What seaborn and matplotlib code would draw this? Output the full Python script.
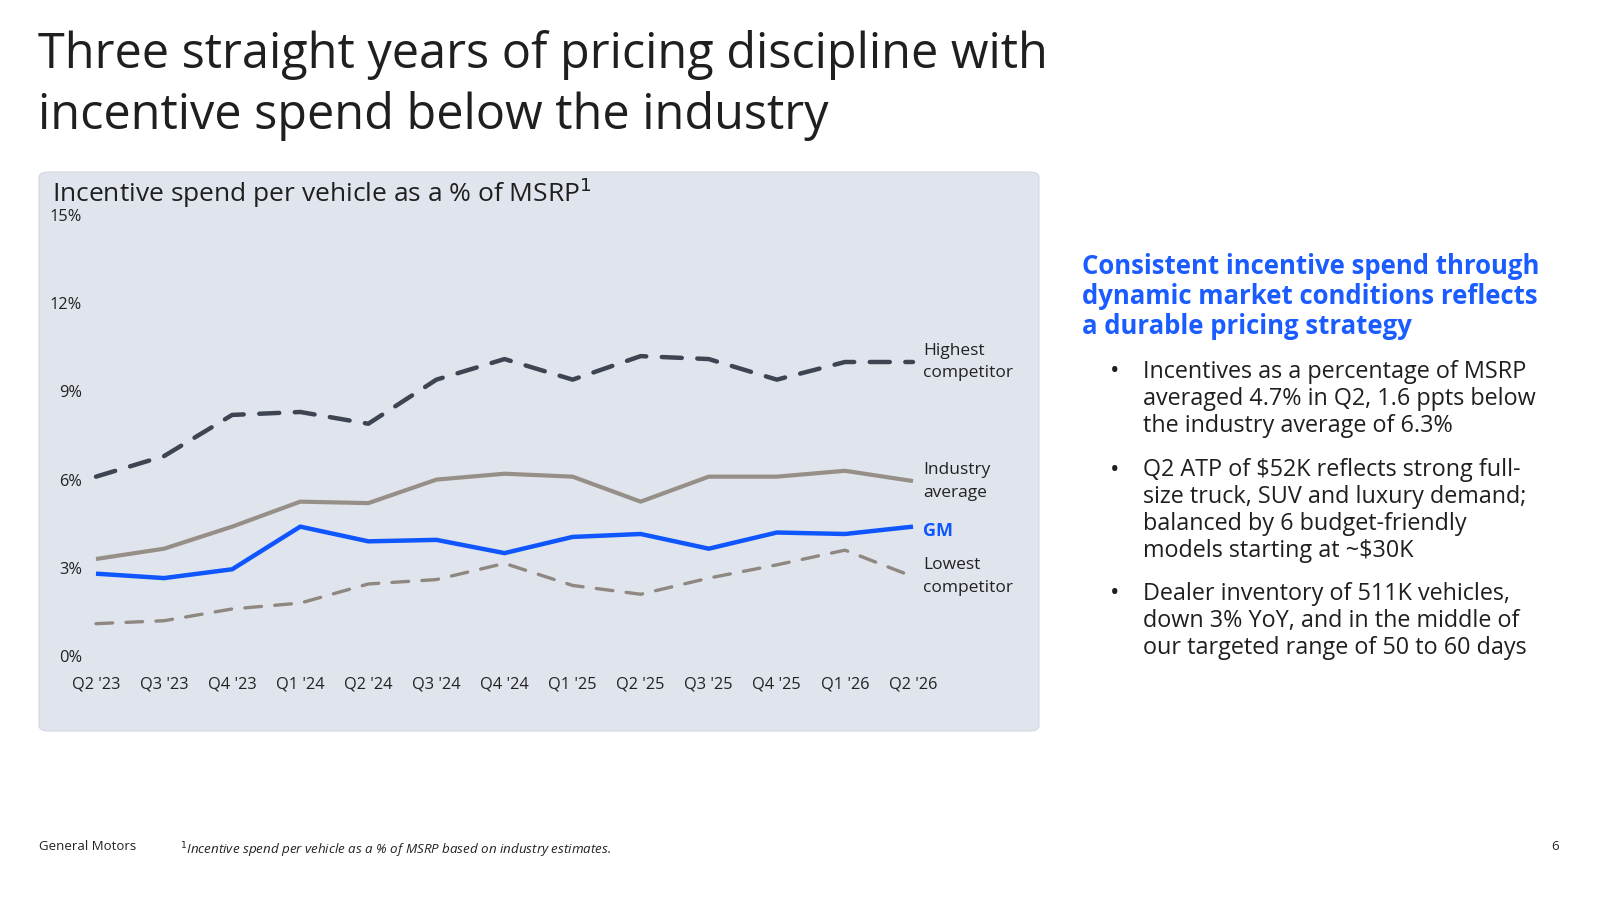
import matplotlib
matplotlib.use("Agg")
import matplotlib.pyplot as plt
import seaborn as sns
import pandas as pd
from matplotlib.patches import FancyBboxPatch

quarters = ["Q2 '23", "Q3 '23", "Q4 '23", "Q1 '24", "Q2 '24", "Q3 '24", "Q4 '24",
            "Q1 '25", "Q2 '25", "Q3 '25", "Q4 '25", "Q1 '26", "Q2 '26"]
highest = [6.1, 6.8, 8.2, 8.3, 7.9, 9.4, 10.1, 9.4, 10.2, 10.1, 9.4, 10.0, 10.0]
industry = [3.3, 3.65, 4.4, 5.25, 5.2, 6.0, 6.2, 6.1, 5.25, 6.1, 6.1, 6.3, 5.95]
gm = [2.8, 2.65, 2.95, 4.4, 3.9, 3.95, 3.5, 4.05, 4.15, 3.65, 4.2, 4.15, 4.4]
lowest = [1.1, 1.2, 1.6, 1.8, 2.45, 2.6, 3.15, 2.4, 2.1, 2.65, 3.1, 3.6, 2.7]
yticks = [0, 3, 6, 9, 12, 15]

sns.set_theme(style="white")
plt.rcParams['font.family'] = ['Open Sans', 'DejaVu Sans']

W, H = 1600, 900
fig = plt.figure(figsize=(16, 9), dpi=100)
fig.patch.set_facecolor("white")

def P(x, y):
    return (x / W, 1 - y / H)

# panel background
panel = FancyBboxPatch(P(39, 731), (1039 - 39) / W, (731 - 172) / H,
                       boxstyle="round,pad=0,rounding_size=0.006",
                       transform=fig.transFigure, facecolor="#E0E4EC",
                       edgecolor="#D3D8E0", linewidth=0.8, zorder=-5)
fig.patches.append(panel)

left, right, top, bottom = 96, 913, 215, 656
ax = fig.add_axes([left / W, 1 - bottom / H, (right - left) / W, (bottom - top) / H])
ax.set_facecolor("none")
ax.set_zorder(2)

x = list(range(len(quarters)))
df = pd.DataFrame({"x": x, "highest": highest, "industry": industry, "gm": gm, "lowest": lowest})

sns.lineplot(data=df, x="x", y="lowest", ax=ax, color="#8E8881", linewidth=2.4,
             clip_on=False, zorder=2)
ax.lines[-1].set_dashes([5, 4])
sns.lineplot(data=df, x="x", y="industry", ax=ax, color="#968F88", linewidth=3.0,
             clip_on=False, zorder=3)
sns.lineplot(data=df, x="x", y="highest", ax=ax, color="#3E4452", linewidth=3.2,
             clip_on=False, zorder=3)
ax.lines[-1].set_dashes([4.5, 3.5])
sns.lineplot(data=df, x="x", y="gm", ax=ax, color="#0F56FF", linewidth=3.2,
             clip_on=False, zorder=4)
for ln in ax.lines:
    ln.set_solid_capstyle("butt")
    ln.set_dash_capstyle("round")

ax.set_xlim(0, 12)
ax.set_ylim(0, 15)
ax.set_xticks(x)
ax.set_xticklabels(quarters)
ax.set_yticks(yticks)
ax.set_yticklabels([f"{v}%" for v in yticks])
ax.tick_params(axis="both", length=0, labelsize=11.8, colors="#222222")
ax.tick_params(axis="y", pad=10)
ax.tick_params(axis="x", pad=14.5)
ax.set_xlabel("")
ax.set_ylabel("")
for s in ax.spines.values():
    s.set_visible(False)
ax.grid(False)

# line labels
lab_kw = dict(fontsize=12.5, color="#222222", va="center", ha="left")
fig.text(*P(923, 351), "Highest", **lab_kw)
fig.text(*P(923, 373), "competitor", **lab_kw)
fig.text(*P(923, 470), "Industry", **lab_kw)
fig.text(*P(923, 493), "average", **lab_kw)
fig.text(*P(923, 531), "GM", fontsize=13, color="#0F56FF", fontweight="bold", va="center", ha="left")
fig.text(*P(923, 565), "Lowest", **lab_kw)
fig.text(*P(923, 588), "competitor", **lab_kw)

# chart subtitle
fig.text(*P(52, 193), "Incentive spend per vehicle as a % of MSRP$^{1}$", fontsize=19,
         color="#1F1F1F", va="center", ha="left")

# title
fig.text(*P(38, 55), "Three straight years of pricing discipline with", fontsize=35,
         color="#1F1F1F", va="center", ha="left")
fig.text(*P(38, 116), "incentive spend below the industry", fontsize=35,
         color="#1F1F1F", va="center", ha="left")

# right heading
for i, t in enumerate(["Consistent incentive spend through",
                       "dynamic market conditions reflects",
                       "a durable pricing strategy"]):
    fig.text(*P(1082, 266 + 30 * i), t, fontsize=18.5, fontweight="bold",
             color="#1A5CFF", va="center", ha="left")

bullets = [
    ["Incentives as a percentage of MSRP", "averaged 4.7% in Q2, 1.6 ppts below",
     "the industry average of 6.3%"],
    ["Q2 ATP of $52K reflects strong full-", "size truck, SUV and luxury demand;",
     "balanced by 6 budget-friendly", "models starting at ~$30K"],
    ["Dealer inventory of 511K vehicles,", "down 3% YoY, and in the middle of",
     "our targeted range of 50 to 60 days"],
]
starts = [372, 470, 594]
for b, y0 in zip(bullets, starts):
    fig.text(*P(1115, y0), "•", fontsize=18, color="#1F1F1F", va="center", ha="center")
    for j, line in enumerate(b):
        fig.text(*P(1143, y0 + 27 * j), line.replace("$", r"\$"), fontsize=16.8,
                 color="#1F1F1F", va="center", ha="left")

# footer
fig.text(*P(39, 847), "General Motors", fontsize=9.5, color="#222222", va="center", ha="left")
fig.text(*P(180, 850), "$^{1}$Incentive spend per vehicle as a % of MSRP based on industry estimates.",
         fontsize=9.6, style="italic", color="#222222", va="center", ha="left")
fig.text(*P(1555, 847), "6", fontsize=9.5, color="#222222", va="center", ha="center")

fig.savefig("out.png", dpi=100, facecolor="white")
